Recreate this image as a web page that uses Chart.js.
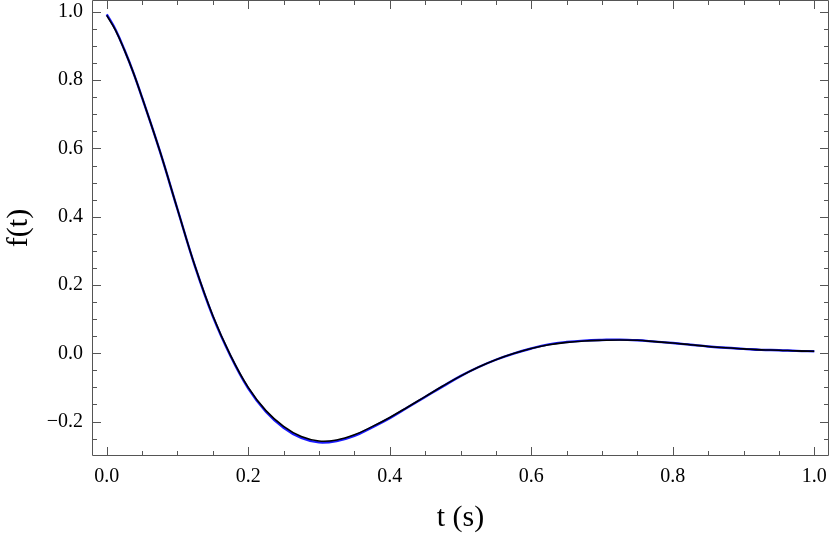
<!DOCTYPE html>
<html>
<head>
<meta charset="utf-8">
<script src="https://cdn.jsdelivr.net/npm/chart.js@4"></script>
<style>
  body { margin: 0; background: #fff; }
  canvas { display: block; }
</style>
</head>
<body>
<canvas id="myChart" width="830" height="533"></canvas>
<script>
var tValues = [0, 0.0125, 0.025, 0.0375, 0.05, 0.075, 0.1, 0.125, 0.15, 0.175, 0.2, 0.225,
  0.25, 0.275, 0.3, 0.325, 0.35, 0.375, 0.4, 0.425, 0.45, 0.475,
  0.5, 0.525, 0.55, 0.575, 0.6, 0.625, 0.65, 0.675, 0.7, 0.725,
  0.75, 0.775, 0.8, 0.825, 0.85, 0.875, 0.9, 0.925, 0.95, 0.975, 1.0];
var fBlack = [0.990, 0.946, 0.888, 0.823, 0.749, 0.593, 0.422, 0.254, 0.110, -0.006, -0.100, -0.168,
  -0.214, -0.244, -0.257, -0.254, -0.239, -0.215, -0.188, -0.158, -0.127, -0.096,
  -0.067, -0.041, -0.019, -0.001, 0.014, 0.025, 0.032, 0.036, 0.038, 0.039,
  0.038, 0.034, 0.030, 0.025, 0.020, 0.016, 0.013, 0.010, 0.009, 0.007, 0.006];
var fBlue = [0.993, 0.948, 0.889, 0.823, 0.749, 0.593, 0.422, 0.253, 0.108, -0.008, -0.103, -0.171,
  -0.218, -0.248, -0.261, -0.257, -0.242, -0.217, -0.190, -0.159, -0.128, -0.097,
  -0.067, -0.041, -0.019, -0.001, 0.014, 0.026, 0.033, 0.037, 0.039, 0.040,
  0.038, 0.034, 0.030, 0.025, 0.020, 0.016, 0.013, 0.010, 0.009, 0.007, 0.006];
var xTicks = [0, 0.2, 0.4, 0.6, 0.8, 1.0];
var yTicks = [-0.2, 0, 0.2, 0.4, 0.6, 0.8, 1.0];

var serif = "'Liberation Serif', 'Times New Roman', serif";
var frameColor = "#555";

function pts(ys) {
  return tValues.map(function (t, i) { return {x: t, y: ys[i]}; });
}

// frame plus inward ticks on all four sides, like a Mathematica frame
var framePlugin = {
  id: "frame",
  afterDatasetsDraw: function (chart) {
    var ctx = chart.ctx, a = chart.chartArea;
    var xs = chart.scales.x, ys = chart.scales.y;
    ctx.save();
    ctx.strokeStyle = frameColor;
    ctx.lineWidth = 1;
    ctx.beginPath();
    ctx.rect(a.left + 0.5, a.top + 0.5, a.right - a.left - 1, a.bottom - a.top - 1);
    ctx.stroke();
    ctx.beginPath();
    for (var v = 0; v <= 1.0001; v += 0.05) {
      var len = Math.abs(v * 5 - Math.round(v * 5)) < 1e-6 ? 9 : 5;
      var px = Math.round(xs.getPixelForValue(v)) + 0.5;
      ctx.moveTo(px, a.bottom); ctx.lineTo(px, a.bottom - len);
      ctx.moveTo(px, a.top); ctx.lineTo(px, a.top + len);
    }
    for (var w = -0.3; w <= 1.0001; w += 0.05) {
      var lenY = Math.abs(w * 5 - Math.round(w * 5)) < 1e-6 ? 9 : 5;
      var py = Math.round(ys.getPixelForValue(w)) + 0.5;
      if (py < a.top || py > a.bottom) continue;
      ctx.moveTo(a.left, py); ctx.lineTo(a.left + lenY, py);
      ctx.moveTo(a.right, py); ctx.lineTo(a.right - lenY, py);
    }
    ctx.stroke();
    ctx.restore();
  }
};

new Chart("myChart", {
  type: "line",
  data: {
    datasets: [{
      data: pts(fBlack),
      borderColor: "#000",
      borderWidth: 1.6,
      pointRadius: 0,
      tension: 0.4
    }, {
      data: pts(fBlue),
      borderColor: "#1a1aff",
      borderWidth: 2.4,
      pointRadius: 0,
      tension: 0.4
    }]
  },
  options: {
    responsive: false,
    animation: false,
    layout: {padding: {top: 0, right: 1, left: 0, bottom: 0}},
    plugins: {legend: {display: false}, tooltip: {enabled: false}},
    scales: {
      x: {
        type: "linear",
        min: -0.0208,
        max: 1.0208,
        grid: {display: false, drawTicks: false},
        border: {display: false},
        afterBuildTicks: function (s) { s.ticks = xTicks.map(function (v) { return {value: v}; }); },
        afterFit: function (s) { s.height = 77; s.paddingLeft = 0; s.paddingRight = 0; },
        ticks: {
          color: "#000",
          padding: 9,
          maxRotation: 0,
          font: {family: serif, size: 20},
          callback: function (v) { return v.toFixed(1); }
        },
        title: {display: true, text: "t (s)", color: "#000", padding: 0,
          font: {family: serif, size: 30, lineHeight: 1}}
      },
      y: {
        min: -0.301,
        max: 1.035,
        grid: {display: false, drawTicks: false},
        border: {display: false},
        afterBuildTicks: function (s) { s.ticks = yTicks.map(function (v) { return {value: v}; }); },
        afterFit: function (s) { s.width = 92; s.paddingTop = 0; s.paddingBottom = 0; },
        ticks: {
          color: "#000",
          padding: 9,
          font: {family: serif, size: 20},
          callback: function (v) { return v < 0 ? "\u2212" + Math.abs(v).toFixed(1) : v.toFixed(1); }
        },
        title: {display: true, text: "f(t)", color: "#000", padding: 4,
          font: {family: serif, size: 30, lineHeight: 1}}
      }
    }
  },
  plugins: [framePlugin]
});
</script>
</body>
</html>
